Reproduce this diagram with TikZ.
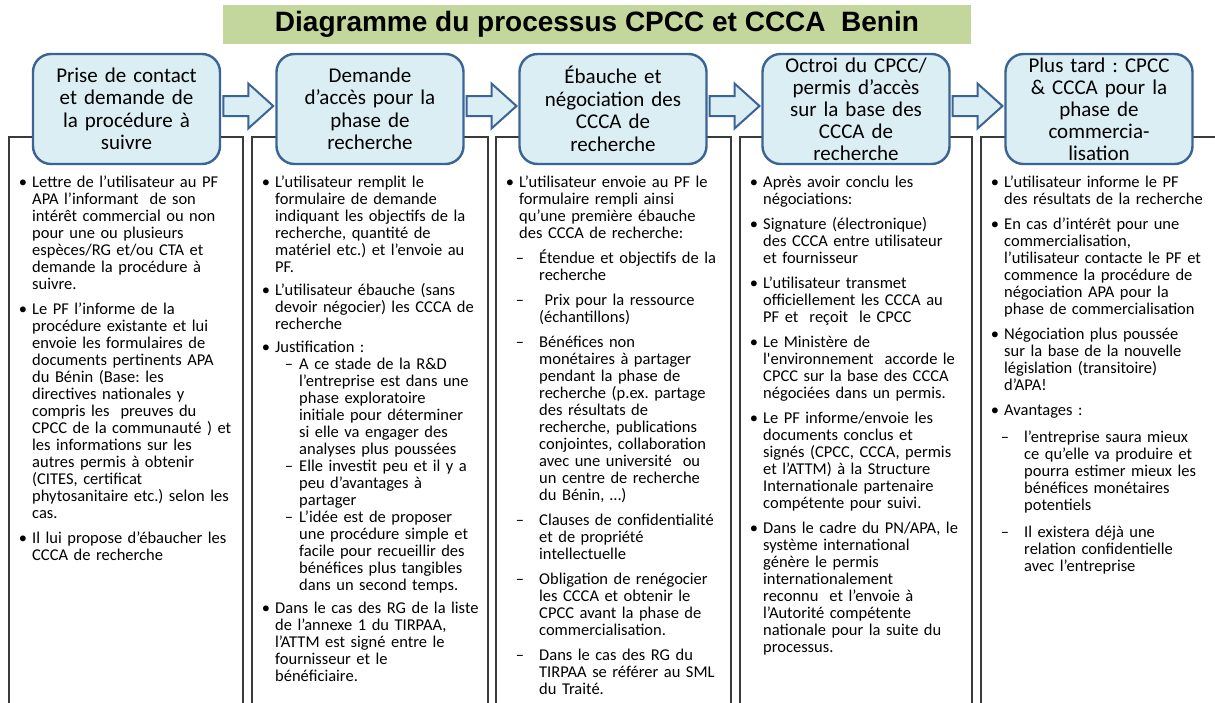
\documentclass[tikz,border=0pt]{standalone}
\usepackage{fontspec}
\setmainfont{Carlito}
\newfontfamily\titlefont{Liberation Sans}
\usepackage{enumitem}
\usetikzlibrary{calc}
\definecolor{hdrfill}{HTML}{DBEEF4}
\definecolor{hdrline}{HTML}{3B6494}
\definecolor{titlefill}{HTML}{C3D69B}
\definecolor{colline}{HTML}{3A3A3A}
\setlist[itemize,1]{label=\textbullet,leftmargin=16pt,labelsep=5pt,itemsep=8pt,parsep=0pt,topsep=0pt,partopsep=0pt}
\setlist[itemize,2]{label=\textendash,leftmargin=20pt,labelsep=15pt,itemsep=10pt,parsep=0pt,topsep=10pt,partopsep=0pt}
\tikzset{
  titlebar/.style={fill=titlefill,draw=none,minimum width=748pt,minimum height=39pt,inner sep=0pt,
    font=\titlefont\bfseries\fontsize{28}{30}\selectfont},
  hdrbox/.style={draw=hdrline,line width=2.4pt,fill=hdrfill,rounded corners=18pt,
    minimum width=187pt,minimum height=110pt,text width=183pt,align=center,inner sep=0pt,
    font=\fontsize{21}{22.5}\selectfont\frenchspacing},
  colframe/.style={draw=colline,line width=1.7pt},
  bodytext/.style={anchor=base west,text width=300pt,align=left,inner sep=0pt,
    font=\fontsize{16.5}{17}\selectfont\frenchspacing},
  arrowshape/.style={draw=hdrline,line width=2pt,fill=hdrfill,line join=miter},
  blockarrow/.pic={\path[arrowshape] (-25,-10) -- (0,-10) -- (0,-22.5) -- (25,0) -- (0,22.5) -- (0,10) -- (-25,10) -- cycle;}
}
\begin{document}
\begin{tikzpicture}[x=1pt,y=-1pt]
\useasboundingbox (0,0) rectangle (1215,702);
\fill[white] (0,0) rectangle (1215,702);
% title
\node[titlebar] (title) at (597,24.5) {Diagramme du processus CPCC et CCCA\ \ Benin};
% column frames
\draw[colframe] (9,712) -- (9,137) -- (243,137) -- (243,712);
\draw[colframe] (252,712) -- (252,137) -- (488,137) -- (488,712);
\draw[colframe] (496,712) -- (496,137) -- (731,137) -- (731,712);
\draw[colframe] (740,712) -- (740,137) -- (972,137) -- (972,712);
\draw[colframe] (981,712) -- (981,137) -- (1230,137);
% header boxes
\node[hdrbox] (h1) at (126.5,109) {Prise de contact\\et demande de\\la procédure à\\suivre};
\node[hdrbox] (h2) at (370,109) {Demande\\d’accès pour la\\phase de\\recherche};
\node[hdrbox] (h3) at (613,109) {Ébauche et\\négociation des\\CCCA de\\recherche};
\node[hdrbox,font=\fontsize{21}{22}\selectfont\frenchspacing] (h4) at (856,109) {Octroi du CPCC/\\permis d’accès\\sur la base des\\CCCA de\\recherche};
\node[hdrbox,font=\fontsize{21}{22}\selectfont\frenchspacing] (h5) at (1099,109) {Plus tard : CPCC\\\& CCCA pour la\\phase de\\commercia-\\lisation};
% arrows
\foreach \a/\b/\n in {h1/h2/a1,h2/h3/a2,h3/h4/a3,h4/h5/a4}{
  \path (\a.east) -- (\b.west) coordinate[midway] (\n);
  \pic at ($(\n)+(0,-3)$) {blockarrow};
}
% column 1
\node[bodytext] (c1) at (16,170) {%
\begin{itemize}
\item Lettre de l’utilisateur au PF\\APA l’informant\ \ de son\\intérêt commercial ou non\\pour une ou plusieurs\\espèces/RG et/ou CTA et\\demande la procédure à\\suivre.
\item Le PF l’informe de la\\procédure existante et lui\\envoie les formulaires de\\documents pertinents APA\\du Bénin (Base: les\\directives nationales y\\compris les\ \ preuves du\\CPCC de la communauté ) et\\les informations sur les\\autres permis à obtenir\\(CITES, certificat\\phytosanitaire etc.) selon les\\cas.
\item Il lui propose d’ébaucher les\\CCCA de recherche
\end{itemize}};
% column 2
\node[bodytext] (c2) at (259,170) {%
\begin{itemize}[itemsep=6pt]
\item L’utilisateur remplit le\\formulaire de demande\\indiquant les objectifs de la\\recherche, quantité de\\matériel etc.) et l’envoie au\\PF.
\item L’utilisateur ébauche (sans\\devoir négocier) les CCCA de\\recherche
\item Justification :
  \begin{itemize}[leftmargin=24pt,labelsep=6pt,itemsep=0pt,topsep=0pt]
  \item A ce stade de la R\&D\\l’entreprise est dans une\\phase exploratoire\\initiale pour déterminer\\si elle va engager des\\analyses plus poussées
  \item Elle investit peu et il y a\\peu d’avantages à\\partager
  \item L’idée est de proposer\\une procédure simple et\\facile pour recueillir des\\bénéfices plus tangibles\\dans un second temps.
  \end{itemize}
\item Dans le cas des RG de la liste\\de l’annexe 1 du TIRPAA,\\l’ATTM est signé entre le\\fournisseur et le\\bénéficiaire.
\end{itemize}};
% column 3
\node[bodytext] (c3) at (503,170) {%
\begin{itemize}
\item L’utilisateur envoie au PF le\\formulaire rempli ainsi\\qu’une première ébauche\\des CCCA de recherche:
  \begin{itemize}[itemsep=8pt,topsep=8pt]
  \item Étendue et objectifs de la\\recherche
  \item \ Prix pour la ressource\\(échantillons)
  \item Bénéfices non\\monétaires à partager\\pendant la phase de\\recherche (p.ex. partage\\des résultats de\\recherche, publications\\conjointes, collaboration\\avec une université\ \ ou\\un centre de recherche\\du Bénin, …)
  \item Clauses de confidentialité\\et de propriété\\intellectuelle
  \item Obligation de renégocier\\les CCCA et obtenir le\\CPCC avant la phase de\\commercialisation.
  \item Dans le cas des RG du\\TIRPAA se référer au SML\\du Traité.
  \end{itemize}
\end{itemize}};
% column 4
\node[bodytext] (c4) at (747,170) {%
\begin{itemize}
\item Après avoir conclu les\\négociations:
\item Signature (électronique)\\des CCCA entre utilisateur\\et fournisseur
\item L’utilisateur transmet\\officiellement les CCCA au\\PF et\ \ reçoit\ \ le CPCC
\item Le Ministère de\\l\textquotesingle environnement\ \ accorde le\\CPCC sur la base des CCCA\\négociées dans un permis.
\item Le PF informe/envoie les\\documents conclus et\\signés (CPCC, CCCA, permis\\et l’ATTM) à la Structure\\Internationale partenaire\\compétente pour suivi.
\item Dans le cadre du PN/APA, le\\système international\\génère le permis\\internationalement\\reconnu\ \ et l’envoie à\\l’Autorité compétente\\nationale pour la suite du\\processus.
\end{itemize}};
% column 5
\node[bodytext] (c5) at (988,170) {%
\begin{itemize}
\item L’utilisateur informe le PF\\des résultats de la recherche
\item En cas d’intérêt pour une\\commercialisation,\\l’utilisateur contacte le PF et\\commence la procédure de\\négociation APA pour la\\phase de commercialisation
\item Négociation plus poussée\\sur la base de la nouvelle\\législation (transitoire)\\d’APA!
\item Avantages :
  \begin{itemize}
  \item l’entreprise saura mieux\\ce qu’elle va produire et\\pourra estimer mieux les\\bénéfices monétaires\\potentiels
  \item Il existera déjà une\\relation confidentielle\\avec l’entreprise
  \end{itemize}
\end{itemize}};
\end{tikzpicture}
\end{document}
